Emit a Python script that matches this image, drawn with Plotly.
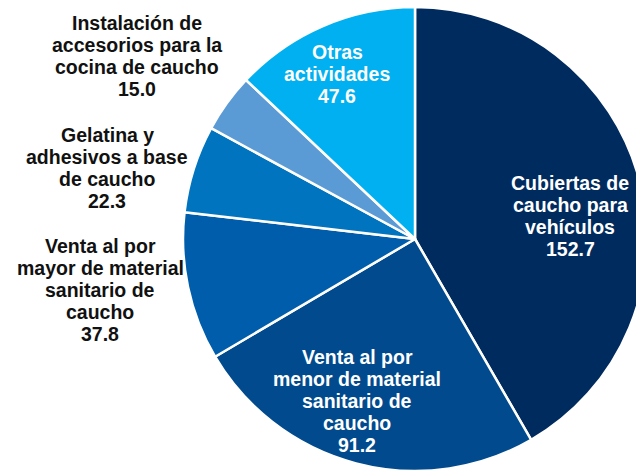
'''
    Pie chart of rubber-product activities (values per category).
'''
import plotly.graph_objects as go

W, H = 660, 471  # figure a bit wider than the window so the pie gets cut on the right

categorias = [
    "Cubiertas de<br>caucho para<br>vehículos",
    "Venta al por<br>menor de material<br>sanitario de<br>caucho",
    "Venta al por<br>mayor de material<br>sanitario de<br>caucho",
    "Gelatina y<br>adhesivos a base<br>de caucho",
    "Instalación de<br>accesorios para la<br>cocina de caucho",
    "Otras<br>actividades",
]
valores = [152.7, 91.2, 37.8, 22.3, 15.0, 47.6]
colores = ["#002B5E", "#004A8D", "#005DAB", "#0074BE", "#5B9BD5", "#00B0F0"]

# label centres in pixels and text colour (inside = white, outside = black)
pos_etiquetas = [(570, 216), (357, 401), (100, 290), (107, 168), (137, 56), (337, 74)]
color_texto = ["white", "white", "#111111", "#111111", "#111111", "white"]
PASO = 22.2  # line pitch of the labels, px

# pie centre (415, 239), radius 232
cx, cy, r = 415, 239, 232
fig = go.Figure(go.Pie(
    labels=categorias,
    values=valores,
    sort=False,
    direction="clockwise",
    rotation=0,
    marker=dict(colors=colores, line=dict(color="white", width=2.5)),
    textinfo="none",
    hoverinfo="label+value",
    domain=dict(x=[(cx - r) / W, (cx + r) / W], y=[(H - cy - r) / H, (H - cy + r) / H]),
))

for lab, val, (px_, py_), col in zip(categorias, valores, pos_etiquetas, color_texto):
    lineas = lab.split("<br>") + ["{:.1f}".format(val)]
    n = len(lineas)
    for i, linea in enumerate(lineas):
        y = py_ + (i - (n - 1) / 2) * PASO
        fig.add_annotation(
            x=px_ / W, y=1 - y / H, xref="paper", yref="paper",
            text=linea,
            showarrow=False, align="center", xanchor="center", yanchor="middle",
            font=dict(family="Liberation Sans, Arial", size=19.5, color=col, weight="bold"),
        )

fig.update_layout(
    width=W, height=H,
    margin=dict(l=0, r=0, t=0, b=0),
    showlegend=False,
    paper_bgcolor="white",
)

fig.write_html(
    "out.html",
    config={"displayModeBar": False},
    post_script="document.body.style.margin='0';"
                "document.body.style.overflow='hidden';"
                "document.documentElement.style.overflow='hidden';",
)
